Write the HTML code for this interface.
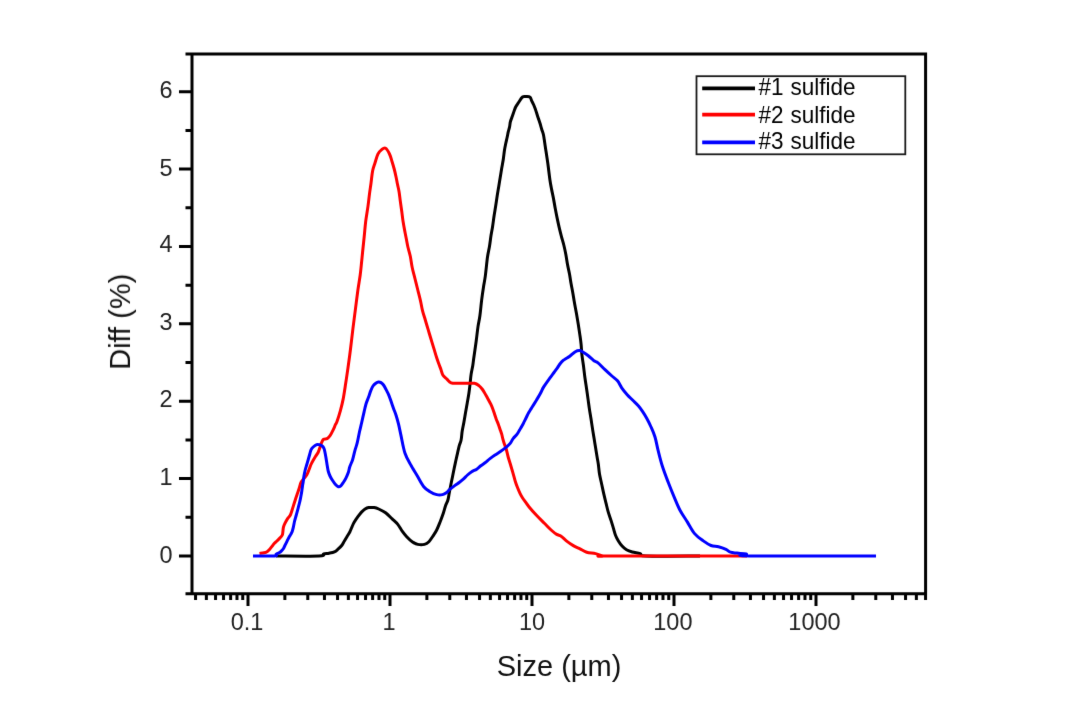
<!DOCTYPE html><html><head><meta charset="utf-8"><style>html,body{margin:0;padding:0;background:#fff;}svg{display:block;}</style></head><body>
<svg width="1080" height="720" viewBox="0 0 1080 720">
<rect width="1080" height="720" fill="#fff"/>
<defs><filter id="b" x="0" y="0" width="1080" height="720" filterUnits="userSpaceOnUse" color-interpolation-filters="sRGB"><feConvolveMatrix order="3" kernelMatrix="0.00524 0.06192 0.00524 0.06192 0.73137 0.06192 0.00524 0.06192 0.00524" divisor="1" edgeMode="duplicate"/></filter></defs>
<g filter="url(#b)">
<path d="M276.00,556.00 C283.17,556.00 311.07,556.35 319.00,556.00 C326.93,555.65 321.93,554.37 323.60,553.90 C325.27,553.43 327.20,553.53 329.00,553.20 C330.80,552.87 332.90,552.57 334.40,551.90 C335.90,551.23 336.78,550.27 338.00,549.20 C339.22,548.13 340.63,546.87 341.70,545.50 C342.77,544.13 343.50,542.50 344.40,541.00 C345.30,539.50 346.20,538.00 347.10,536.50 C348.00,535.00 348.98,533.62 349.80,532.00 C350.62,530.38 351.25,528.45 352.00,526.80 C352.75,525.15 353.32,523.78 354.30,522.10 C355.28,520.42 356.70,518.37 357.90,516.70 C359.10,515.03 360.30,513.38 361.50,512.10 C362.70,510.82 363.90,509.75 365.10,509.00 C366.30,508.25 367.18,507.83 368.70,507.60 C370.22,507.37 372.53,507.37 374.20,507.60 C375.87,507.83 376.80,508.13 378.70,509.00 C380.60,509.87 383.35,511.15 385.60,512.80 C387.85,514.45 390.17,516.97 392.20,518.90 C394.23,520.83 396.13,522.37 397.80,524.40 C399.47,526.43 400.72,529.05 402.20,531.10 C403.68,533.15 405.03,534.93 406.70,536.70 C408.37,538.47 410.35,540.42 412.20,541.70 C414.05,542.98 415.77,543.95 417.80,544.40 C419.83,544.85 422.55,544.85 424.40,544.40 C426.25,543.95 427.42,543.17 428.90,541.70 C430.38,540.23 432.00,537.55 433.30,535.60 C434.60,533.65 435.58,532.23 436.70,530.00 C437.82,527.77 438.90,524.98 440.00,522.20 C441.10,519.42 442.37,516.07 443.30,513.30 C444.23,510.53 444.83,507.82 445.60,505.60 C446.37,503.38 447.30,502.05 447.90,500.00 C448.50,497.95 448.72,495.80 449.20,493.30 C449.68,490.80 450.25,487.77 450.80,485.00 C451.35,482.23 451.93,479.48 452.50,476.70 C453.07,473.92 453.65,470.95 454.20,468.30 C454.75,465.65 455.25,463.30 455.80,460.80 C456.35,458.30 456.93,455.80 457.50,453.30 C458.07,450.80 458.60,448.02 459.20,445.80 C459.80,443.58 460.60,442.45 461.10,440.00 C461.60,437.55 461.73,434.07 462.20,431.10 C462.67,428.13 463.33,425.35 463.90,422.20 C464.47,419.05 465.05,415.35 465.60,412.20 C466.15,409.05 466.65,406.45 467.20,403.30 C467.75,400.15 468.43,396.45 468.90,393.30 C469.37,390.15 469.63,387.55 470.00,384.40 C470.37,381.25 470.65,377.47 471.10,374.40 C471.55,371.33 472.30,368.40 472.70,366.00 C473.10,363.60 473.22,362.05 473.50,360.00 C473.78,357.95 473.95,356.87 474.40,353.70 C474.85,350.53 475.60,345.52 476.20,341.00 C476.80,336.48 477.38,330.80 478.00,326.60 C478.62,322.40 479.28,320.30 479.90,315.80 C480.52,311.30 481.10,304.42 481.70,299.60 C482.30,294.78 482.90,290.82 483.50,286.90 C484.10,282.98 484.63,281.08 485.30,276.10 C485.97,271.12 486.80,261.97 487.50,257.00 C488.20,252.03 488.92,249.87 489.50,246.30 C490.08,242.73 490.48,238.92 491.00,235.60 C491.52,232.28 492.08,229.72 492.60,226.40 C493.12,223.08 493.60,219.02 494.10,215.70 C494.60,212.38 495.08,209.82 495.60,206.50 C496.12,203.18 496.68,199.10 497.20,195.80 C497.72,192.50 498.20,189.75 498.70,186.70 C499.20,183.65 499.70,180.57 500.20,177.50 C500.70,174.43 501.18,171.35 501.70,168.30 C502.22,165.25 502.83,162.25 503.30,159.20 C503.77,156.15 504.08,152.65 504.50,150.00 C504.92,147.35 505.37,145.38 505.80,143.30 C506.23,141.22 506.68,139.43 507.10,137.50 C507.52,135.57 507.88,133.50 508.30,131.70 C508.72,129.90 509.25,128.37 509.60,126.70 C509.95,125.03 509.92,123.52 510.40,121.70 C510.88,119.88 511.87,117.62 512.50,115.80 C513.13,113.98 513.65,112.32 514.20,110.80 C514.75,109.28 515.12,108.02 515.80,106.70 C516.48,105.38 517.18,104.52 518.30,102.90 C519.42,101.28 521.13,98.05 522.50,97.00 C523.87,95.95 525.25,96.57 526.50,96.60 C527.75,96.63 529.13,96.50 530.00,97.20 C530.87,97.90 531.08,99.50 531.70,100.80 C532.33,102.10 533.13,103.60 533.75,105.00 C534.37,106.40 534.91,107.82 535.40,109.20 C535.89,110.58 536.22,111.78 536.70,113.30 C537.18,114.82 537.75,116.63 538.30,118.30 C538.85,119.97 539.43,121.48 540.00,123.30 C540.57,125.12 541.15,127.38 541.70,129.20 C542.25,131.02 542.88,132.53 543.30,134.20 C543.72,135.87 543.87,137.12 544.20,139.20 C544.53,141.28 544.70,142.68 545.30,146.70 C545.90,150.72 547.03,157.80 547.80,163.30 C548.57,168.80 549.28,175.43 549.90,179.70 C550.52,183.97 550.92,185.83 551.50,188.90 C552.08,191.97 552.77,194.78 553.40,198.10 C554.03,201.42 554.68,205.50 555.30,208.80 C555.92,212.10 556.47,214.85 557.10,217.90 C557.73,220.95 558.38,224.03 559.10,227.10 C559.82,230.17 560.62,233.32 561.40,236.30 C562.18,239.28 563.07,242.02 563.80,245.00 C564.53,247.98 565.17,250.88 565.80,254.20 C566.43,257.52 566.98,261.60 567.60,264.90 C568.22,268.20 568.93,270.95 569.50,274.00 C570.07,277.05 570.42,279.88 571.00,283.20 C571.58,286.52 572.42,290.58 573.00,293.90 C573.58,297.22 573.92,299.78 574.50,303.10 C575.08,306.42 575.87,310.25 576.50,313.80 C577.13,317.35 577.73,320.85 578.30,324.40 C578.87,327.95 579.43,331.78 579.90,335.10 C580.37,338.42 580.77,341.05 581.10,344.30 C581.43,347.55 581.52,351.10 581.90,354.60 C582.28,358.10 582.90,361.48 583.40,365.30 C583.90,369.12 584.38,373.68 584.90,377.50 C585.42,381.32 585.98,384.63 586.50,388.20 C587.02,391.77 587.50,395.33 588.00,398.90 C588.50,402.47 589.00,406.28 589.50,409.60 C590.00,412.92 590.48,415.50 591.00,418.80 C591.52,422.10 592.08,426.10 592.60,429.40 C593.12,432.70 593.60,435.53 594.10,438.60 C594.60,441.67 595.10,444.73 595.60,447.80 C596.10,450.87 596.65,454.30 597.10,457.00 C597.55,459.70 597.90,461.17 598.30,464.00 C598.70,466.83 598.93,470.63 599.50,474.00 C600.07,477.37 600.97,480.80 601.70,484.20 C602.43,487.60 603.18,491.25 603.90,494.40 C604.62,497.55 605.28,500.18 606.00,503.10 C606.72,506.02 607.35,508.98 608.20,511.90 C609.05,514.82 610.25,517.93 611.10,520.60 C611.95,523.27 612.57,525.47 613.30,527.90 C614.03,530.33 614.65,533.02 615.50,535.20 C616.35,537.38 617.30,539.18 618.40,541.00 C619.50,542.82 620.75,544.63 622.10,546.10 C623.45,547.57 624.80,548.82 626.50,549.80 C628.20,550.78 630.00,551.37 632.30,552.00 C634.60,552.63 638.02,552.93 640.30,553.60 C642.58,554.27 636.05,555.60 646.00,556.00 C655.95,556.40 691.00,556.00 700.00,556.00" fill="none" stroke="#000" stroke-width="3.0" stroke-linejoin="round" stroke-linecap="butt"/>
<path d="M259.50,553.40 C260.25,553.30 262.68,553.13 264.00,552.80 C265.32,552.47 266.42,552.03 267.40,551.40 C268.38,550.77 269.08,549.90 269.90,549.00 C270.72,548.10 271.58,546.90 272.30,546.00 C273.02,545.10 273.38,544.48 274.20,543.60 C275.02,542.72 276.22,541.67 277.20,540.70 C278.18,539.73 279.25,538.75 280.10,537.80 C280.95,536.85 281.83,536.05 282.30,535.00 C282.77,533.95 282.72,532.77 282.90,531.50 C283.08,530.23 283.08,528.70 283.40,527.40 C283.72,526.10 284.10,525.17 284.80,523.70 C285.50,522.23 286.67,520.05 287.60,518.60 C288.53,517.15 289.65,516.43 290.40,515.00 C291.15,513.57 291.47,511.95 292.10,510.00 C292.73,508.05 293.58,505.25 294.20,503.30 C294.82,501.35 295.25,499.97 295.80,498.30 C296.35,496.63 296.93,494.97 297.50,493.30 C298.07,491.63 298.62,490.10 299.20,488.30 C299.78,486.50 300.28,484.05 301.00,482.50 C301.72,480.95 302.55,480.25 303.50,479.00 C304.45,477.75 305.75,476.63 306.70,475.00 C307.65,473.37 308.48,470.95 309.20,469.20 C309.92,467.45 310.30,466.03 311.00,464.50 C311.70,462.97 312.68,461.30 313.40,460.00 C314.12,458.70 314.52,457.95 315.30,456.70 C316.08,455.45 317.30,454.13 318.10,452.50 C318.90,450.87 319.53,448.52 320.10,446.90 C320.67,445.28 320.92,444.07 321.50,442.80 C322.08,441.53 322.67,440.00 323.60,439.30 C324.53,438.60 326.05,439.18 327.10,438.60 C328.15,438.02 329.10,436.83 329.90,435.80 C330.70,434.77 331.22,433.67 331.90,432.40 C332.58,431.13 333.42,429.48 334.00,428.20 C334.58,426.92 334.90,425.82 335.40,424.70 C335.90,423.58 336.17,423.85 337.00,421.50 C337.83,419.15 339.37,414.37 340.40,410.60 C341.43,406.83 342.32,403.45 343.20,398.90 C344.08,394.35 344.90,388.48 345.70,383.30 C346.50,378.12 347.18,373.63 348.00,367.80 C348.82,361.97 349.78,354.78 350.60,348.30 C351.42,341.82 352.10,335.38 352.90,328.90 C353.70,322.42 354.57,315.88 355.40,309.40 C356.23,302.92 357.10,295.73 357.90,290.00 C358.70,284.27 359.58,279.67 360.20,275.00 C360.82,270.33 361.20,265.83 361.60,262.00 C362.00,258.17 362.17,256.22 362.60,252.00 C363.03,247.78 363.68,241.80 364.20,236.70 C364.72,231.60 365.07,226.50 365.70,221.40 C366.33,216.30 367.37,210.68 368.00,206.10 C368.63,201.52 369.00,197.72 369.50,193.90 C370.00,190.08 370.48,187.02 371.00,183.20 C371.52,179.38 371.95,174.32 372.60,171.00 C373.25,167.68 374.02,166.10 374.90,163.30 C375.78,160.50 376.77,156.48 377.90,154.20 C379.03,151.92 380.42,150.58 381.70,149.60 C382.98,148.62 384.30,147.57 385.60,148.30 C386.90,149.03 388.43,151.80 389.50,154.00 C390.57,156.20 391.22,159.00 392.00,161.50 C392.78,164.00 393.53,166.47 394.20,169.00 C394.87,171.53 395.45,174.15 396.00,176.70 C396.55,179.25 396.98,181.77 397.50,184.30 C398.02,186.83 398.63,189.10 399.10,191.90 C399.57,194.70 399.85,197.78 400.30,201.10 C400.75,204.42 401.35,208.48 401.80,211.80 C402.25,215.12 402.53,217.95 403.00,221.00 C403.47,224.05 404.03,227.05 404.60,230.10 C405.17,233.15 405.85,236.48 406.40,239.30 C406.95,242.12 407.25,244.17 407.90,247.00 C408.55,249.83 409.58,252.88 410.30,256.30 C411.02,259.72 411.42,263.76 412.20,267.50 C412.98,271.24 414.07,275.00 415.00,278.75 C415.93,282.50 416.87,286.24 417.80,290.00 C418.73,293.76 419.82,297.87 420.60,301.30 C421.38,304.73 421.72,307.48 422.50,310.60 C423.28,313.72 424.37,316.87 425.30,320.00 C426.23,323.13 427.17,326.27 428.10,329.40 C429.03,332.52 429.96,335.63 430.90,338.75 C431.84,341.87 432.80,344.98 433.75,348.10 C434.70,351.23 435.74,354.85 436.60,357.50 C437.46,360.15 438.15,361.92 438.90,364.00 C439.65,366.08 440.45,368.17 441.10,370.00 C441.75,371.83 441.87,373.52 442.80,375.00 C443.73,376.48 445.32,377.60 446.70,378.90 C448.08,380.20 449.25,382.07 451.10,382.80 C452.95,383.53 455.20,383.22 457.80,383.30 C460.40,383.38 463.93,383.30 466.70,383.30 C469.47,383.30 472.37,382.92 474.40,383.30 C476.43,383.68 477.55,384.57 478.90,385.60 C480.25,386.63 481.35,387.93 482.50,389.50 C483.65,391.07 484.83,393.33 485.80,395.00 C486.77,396.67 487.47,397.97 488.30,399.50 C489.13,401.03 490.03,402.58 490.80,404.20 C491.57,405.82 492.27,407.53 492.90,409.20 C493.53,410.87 494.04,412.53 494.60,414.20 C495.16,415.87 495.63,417.53 496.25,419.20 C496.87,420.87 497.68,422.53 498.30,424.20 C498.93,425.87 499.43,427.53 500.00,429.20 C500.57,430.87 501.22,432.53 501.70,434.20 C502.18,435.87 502.48,437.65 502.90,439.20 C503.32,440.75 503.65,441.87 504.20,443.50 C504.75,445.13 505.52,446.67 506.20,449.00 C506.88,451.33 507.60,454.97 508.30,457.50 C509.00,460.03 509.77,462.12 510.40,464.20 C511.03,466.28 511.54,468.07 512.10,470.00 C512.66,471.93 513.20,473.85 513.75,475.80 C514.30,477.75 514.77,479.75 515.40,481.70 C516.02,483.65 516.73,485.57 517.50,487.50 C518.27,489.43 519.15,491.55 520.00,493.30 C520.85,495.05 521.67,496.52 522.60,498.00 C523.53,499.48 524.55,500.75 525.60,502.20 C526.65,503.65 527.05,504.47 528.90,506.70 C530.75,508.93 534.12,512.83 536.70,515.60 C539.28,518.37 542.00,520.90 544.40,523.30 C546.80,525.70 549.05,528.15 551.10,530.00 C553.15,531.85 555.03,533.37 556.70,534.40 C558.37,535.43 559.43,535.08 561.10,536.20 C562.77,537.32 564.67,539.53 566.70,541.10 C568.73,542.67 571.08,544.30 573.30,545.60 C575.52,546.90 577.77,547.80 580.00,548.90 C582.23,550.00 584.10,551.42 586.70,552.20 C589.30,552.98 592.83,552.97 595.60,553.60 C598.37,554.23 600.90,555.60 603.30,556.00 C605.70,556.40 586.05,556.00 610.00,556.00 C633.95,556.00 724.17,556.00 747.00,556.00" fill="none" stroke="#ff0000" stroke-width="3.0" stroke-linejoin="round" stroke-linecap="butt"/>
<path d="M253.00,556.00 C256.58,556.00 270.63,556.30 274.50,556.00 C278.37,555.70 275.43,554.73 276.20,554.20 C276.97,553.67 278.22,553.35 279.10,552.80 C279.98,552.25 280.77,551.62 281.50,550.90 C282.23,550.18 282.93,549.40 283.50,548.50 C284.07,547.60 284.42,546.48 284.90,545.50 C285.38,544.52 285.92,543.57 286.40,542.60 C286.88,541.63 287.32,540.67 287.80,539.70 C288.28,538.73 288.80,537.68 289.30,536.80 C289.80,535.92 290.32,535.28 290.80,534.40 C291.28,533.52 291.78,532.67 292.20,531.50 C292.62,530.33 292.90,529.15 293.30,527.40 C293.70,525.65 294.15,522.90 294.60,521.00 C295.05,519.10 295.57,517.55 296.00,516.00 C296.43,514.45 296.78,513.25 297.20,511.70 C297.62,510.15 298.07,508.37 298.50,506.70 C298.93,505.03 299.42,503.37 299.80,501.70 C300.18,500.03 300.48,498.37 300.80,496.70 C301.12,495.03 301.43,493.37 301.70,491.70 C301.97,490.03 302.15,488.37 302.40,486.70 C302.65,485.03 302.93,483.52 303.20,481.70 C303.47,479.88 303.67,477.75 304.00,475.80 C304.33,473.85 304.73,471.88 305.20,470.00 C305.67,468.12 306.27,466.33 306.80,464.50 C307.33,462.67 307.90,460.75 308.40,459.00 C308.90,457.25 309.37,455.53 309.80,454.00 C310.23,452.47 310.43,450.97 311.00,449.80 C311.57,448.63 312.25,447.87 313.20,447.00 C314.15,446.13 315.67,444.97 316.70,444.60 C317.73,444.23 318.48,444.57 319.40,444.80 C320.32,445.03 321.43,445.38 322.20,446.00 C322.97,446.62 323.53,447.42 324.00,448.50 C324.47,449.58 324.70,451.13 325.00,452.50 C325.30,453.87 325.55,455.28 325.80,456.70 C326.05,458.12 326.27,459.53 326.50,461.00 C326.73,462.47 326.92,463.83 327.20,465.50 C327.48,467.17 327.73,469.25 328.20,471.00 C328.67,472.75 329.27,474.42 330.00,476.00 C330.73,477.58 331.68,479.08 332.60,480.50 C333.52,481.92 334.55,483.47 335.50,484.50 C336.45,485.53 337.42,486.48 338.30,486.70 C339.18,486.92 339.97,486.50 340.80,485.80 C341.63,485.10 342.47,483.75 343.30,482.50 C344.13,481.25 344.97,479.97 345.80,478.30 C346.63,476.63 347.63,474.43 348.30,472.50 C348.97,470.57 349.08,468.83 349.80,466.70 C350.52,464.57 351.75,462.38 352.60,459.70 C353.45,457.02 354.13,453.40 354.90,450.60 C355.67,447.80 356.45,445.97 357.20,442.90 C357.95,439.83 358.65,435.60 359.40,432.20 C360.15,428.80 360.92,425.90 361.70,422.50 C362.48,419.10 363.38,414.88 364.10,411.80 C364.82,408.72 365.27,406.43 366.00,404.00 C366.73,401.57 367.68,399.47 368.50,397.20 C369.32,394.93 370.15,392.27 370.90,390.40 C371.65,388.53 372.18,387.18 373.00,386.00 C373.82,384.82 374.88,383.97 375.80,383.30 C376.72,382.63 377.63,382.12 378.50,382.00 C379.37,381.88 380.17,382.10 381.00,382.60 C381.83,383.10 382.67,383.87 383.50,385.00 C384.33,386.13 385.10,387.68 386.00,389.40 C386.90,391.12 388.02,393.18 388.90,395.30 C389.78,397.42 390.50,399.83 391.30,402.10 C392.10,404.37 392.88,406.63 393.70,408.90 C394.52,411.17 395.38,413.12 396.20,415.70 C397.02,418.28 397.83,421.25 398.60,424.40 C399.37,427.55 399.73,429.78 400.80,434.60 C401.87,439.42 403.26,448.10 405.00,453.30 C406.74,458.50 409.17,461.98 411.25,465.80 C413.33,469.62 415.42,472.77 417.50,476.25 C419.58,479.73 421.67,484.12 423.75,486.70 C425.83,489.27 427.84,490.38 430.00,491.70 C432.16,493.02 434.62,494.12 436.70,494.60 C438.78,495.08 440.83,494.95 442.50,494.60 C444.17,494.25 445.45,493.40 446.70,492.50 C447.95,491.60 448.62,490.38 450.00,489.20 C451.38,488.02 453.47,486.52 455.00,485.40 C456.53,484.28 457.82,483.53 459.20,482.50 C460.58,481.47 461.92,480.45 463.30,479.20 C464.68,477.95 466.10,476.25 467.50,475.00 C468.90,473.75 470.17,472.67 471.70,471.70 C473.23,470.73 475.18,470.18 476.70,469.20 C478.22,468.22 479.42,466.87 480.80,465.80 C482.18,464.73 483.47,464.00 485.00,462.80 C486.53,461.60 488.33,459.90 490.00,458.60 C491.67,457.30 493.33,456.13 495.00,455.00 C496.67,453.87 498.33,452.93 500.00,451.80 C501.67,450.67 503.33,449.57 505.00,448.20 C506.67,446.83 508.62,445.25 510.00,443.60 C511.38,441.95 512.12,439.87 513.30,438.30 C514.48,436.73 516.05,435.58 517.10,434.20 C518.15,432.82 518.77,431.40 519.60,430.00 C520.43,428.60 521.33,427.18 522.10,425.80 C522.87,424.42 523.51,423.08 524.20,421.70 C524.89,420.32 525.49,419.03 526.25,417.50 C527.01,415.97 527.92,413.98 528.75,412.50 C529.58,411.02 530.38,409.92 531.20,408.60 C532.03,407.28 532.83,406.00 533.70,404.60 C534.57,403.20 535.48,401.70 536.40,400.20 C537.32,398.70 538.35,397.10 539.20,395.60 C540.05,394.10 540.75,392.65 541.50,391.20 C542.25,389.75 542.28,389.12 543.70,386.90 C545.12,384.68 548.28,380.30 550.00,377.90 C551.72,375.50 552.77,374.18 554.00,372.50 C555.23,370.82 556.32,369.35 557.40,367.80 C558.48,366.25 559.48,364.47 560.50,363.20 C561.52,361.93 562.50,361.03 563.50,360.20 C564.50,359.37 565.45,358.87 566.50,358.20 C567.55,357.53 568.33,357.28 569.80,356.20 C571.27,355.12 573.67,352.63 575.30,351.70 C576.93,350.77 578.35,350.55 579.60,350.60 C580.85,350.65 581.35,351.13 582.80,352.00 C584.25,352.87 586.45,354.35 588.30,355.80 C590.15,357.25 592.28,359.53 593.90,360.70 C595.52,361.87 596.15,361.30 598.00,362.80 C599.85,364.30 602.68,367.50 605.00,369.70 C607.32,371.90 609.82,374.15 611.90,376.00 C613.98,377.85 615.87,378.83 617.50,380.80 C619.13,382.77 620.08,385.48 621.70,387.80 C623.32,390.12 625.35,392.62 627.20,394.70 C629.05,396.78 630.95,398.45 632.80,400.30 C634.65,402.15 636.68,403.95 638.30,405.80 C639.92,407.65 641.10,409.32 642.50,411.40 C643.90,413.48 645.32,415.78 646.70,418.30 C648.08,420.82 649.42,423.38 650.80,426.50 C652.18,429.62 653.78,433.02 655.00,437.00 C656.22,440.98 656.88,445.57 658.10,450.40 C659.32,455.23 660.60,460.65 662.30,466.00 C664.00,471.35 666.32,477.32 668.30,482.50 C670.28,487.68 672.25,492.48 674.20,497.10 C676.15,501.72 677.82,506.07 680.00,510.20 C682.18,514.33 684.87,518.00 687.30,521.90 C689.73,525.80 691.93,530.43 694.60,533.60 C697.27,536.77 700.57,538.92 703.30,540.90 C706.03,542.88 708.47,544.53 711.00,545.50 C713.53,546.47 716.00,546.05 718.50,546.70 C721.00,547.35 724.00,548.48 726.00,549.40 C728.00,550.32 728.67,551.58 730.50,552.20 C732.33,552.82 734.37,552.80 737.00,553.10 C739.63,553.40 744.13,553.52 746.30,554.00 C748.47,554.48 728.38,555.67 750.00,556.00 C771.62,556.33 855.00,556.00 876.00,556.00" fill="none" stroke="#0000ff" stroke-width="3.0" stroke-linejoin="round" stroke-linecap="butt"/>
<path d="M185.5,54.0H927.1 M185.5,593.8H927.1 M192.0,52.5V595.3 M925.6,52.5V595.3 M179,556.00H192.0 M179,478.62H192.0 M179,401.24H192.0 M179,323.86H192.0 M179,246.48H192.0 M179,169.10H192.0 M179,91.72H192.0 M185.5,517.31H192.0 M185.5,439.93H192.0 M185.5,362.55H192.0 M185.5,285.17H192.0 M185.5,207.79H192.0 M185.5,130.41H192.0 M248.00,593.8V606 M390.00,593.8V606 M532.00,593.8V606 M674.00,593.8V606 M816.00,593.8V606 M195.56,593.8V600 M206.36,593.8V600 M215.56,593.8V600 M223.55,593.8V600 M230.63,593.8V600 M236.98,593.8V600 M242.74,593.8V600 M284.87,593.8V600 M307.78,593.8V600 M324.45,593.8V600 M337.56,593.8V600 M348.36,593.8V600 M357.56,593.8V600 M365.55,593.8V600 M372.63,593.8V600 M378.98,593.8V600 M384.74,593.8V600 M426.87,593.8V600 M449.78,593.8V600 M466.45,593.8V600 M479.56,593.8V600 M490.36,593.8V600 M499.56,593.8V600 M507.55,593.8V600 M514.63,593.8V600 M520.98,593.8V600 M526.74,593.8V600 M568.87,593.8V600 M591.78,593.8V600 M608.45,593.8V600 M621.56,593.8V600 M632.36,593.8V600 M641.56,593.8V600 M649.55,593.8V600 M656.63,593.8V600 M662.98,593.8V600 M668.74,593.8V600 M710.87,593.8V600 M733.78,593.8V600 M750.45,593.8V600 M763.56,593.8V600 M774.36,593.8V600 M783.56,593.8V600 M791.55,593.8V600 M798.63,593.8V600 M804.98,593.8V600 M810.74,593.8V600 M852.87,593.8V600 M875.78,593.8V600 M892.45,593.8V600 M905.56,593.8V600 M916.36,593.8V600 M925.56,593.8V600" fill="none" stroke="#000" stroke-width="3.0"/>
<g font-family="'Liberation Sans', Arial, sans-serif" font-size="23.5" fill="#222" text-anchor="end">
<text x="172.5" y="562.9">0</text>
<text x="172.5" y="485.0">1</text>
<text x="172.5" y="407.1">2</text>
<text x="172.5" y="329.6">3</text>
<text x="172.5" y="252.0">4</text>
<text x="172.5" y="175.6">5</text>
<text x="172.5" y="98.2">6</text>
</g>
<g font-family="'Liberation Sans', Arial, sans-serif" font-size="23.5" fill="#222" text-anchor="middle">
<text x="247.0" y="629.8">0.1</text>
<text x="389.0" y="629.8">1</text>
<text x="532.0" y="629.8">10</text>
<text x="672.9" y="629.8">100</text>
<text x="814.5" y="629.8">1000</text>
</g>
<text font-family="'Liberation Sans', Arial, sans-serif" font-size="29" fill="#111" text-anchor="middle" x="559" y="675.5">Size (µm)</text>
<text font-family="'Liberation Sans', Arial, sans-serif" font-size="29" fill="#111" text-anchor="middle" transform="translate(130.0,321.8) rotate(-90)" x="0" y="0">Diff (%)</text>
<rect x="696.5" y="76.2" width="208.8" height="78.1" fill="#fff" stroke="#1a1a1a" stroke-width="1.8"/>
<path d="M702.2,88.35H755" stroke="#000" stroke-width="3.6"/>
<text font-family="'Liberation Sans', Arial, sans-serif" font-size="22.5" fill="#000" word-spacing="0.6" transform="translate(758.6,94.9) scale(1,1.07)">#1 sulfide</text>
<path d="M702.2,114.6H755" stroke="#ff0000" stroke-width="3.6"/>
<text font-family="'Liberation Sans', Arial, sans-serif" font-size="22.5" fill="#000" word-spacing="0.6" transform="translate(758.6,122.7) scale(1,1.07)">#2 sulfide</text>
<path d="M702.2,142.4H755" stroke="#0000ff" stroke-width="3.6"/>
<text font-family="'Liberation Sans', Arial, sans-serif" font-size="22.5" fill="#000" word-spacing="0.6" transform="translate(758.6,148.8) scale(1,1.07)">#3 sulfide</text>
</g>
</svg></body></html>
